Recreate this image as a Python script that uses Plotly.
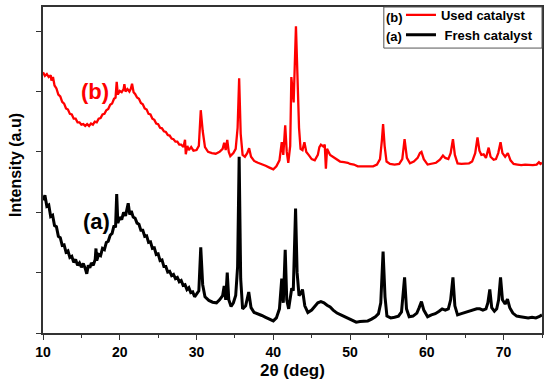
import plotly.graph_objects as go

# 2-theta (deg) and intensity (a.u.)
used_x = [10.0, 10.25, 10.5, 10.75, 11.0, 11.1, 11.3, 11.5, 11.75, 12.0, 12.25, 12.5, 12.75, 13.0, 13.25, 13.5,
          13.75, 14.0, 14.25, 14.5, 14.75, 15.0, 15.25, 15.5, 15.75, 16.0, 16.25, 16.5, 16.75, 17.0, 17.25, 17.5,
          17.75, 18.0, 18.25, 18.5, 18.75, 19.0, 19.25, 19.45, 19.6, 19.75, 20.0, 20.25, 20.5, 20.6, 20.75, 21.0,
          21.25, 21.45, 21.6, 21.8, 22.0, 22.25, 22.5, 22.75, 23.0, 23.25, 23.5, 23.75, 24.0, 24.25, 24.5, 24.75,
          25.0, 25.25, 25.5, 25.75, 26.0, 26.25, 26.5, 26.75, 27.0, 27.25, 27.5, 27.75, 28.0, 28.3, 28.5, 28.6,
          28.8, 29.0, 29.3, 29.6, 30.0, 30.3, 30.55, 30.8, 31.1, 31.5, 32.0, 32.5, 33.0, 33.4, 33.6, 33.8,
          34.0, 34.2, 34.4, 34.8, 35.1, 35.35, 35.55, 35.75, 36.0, 36.3, 36.6, 36.85, 37.1, 37.5, 38.0, 38.5,
          39.0, 39.5, 40.0, 40.4, 40.8, 41.1, 41.3, 41.55, 41.75, 41.95, 42.2, 42.35, 42.5, 42.65, 42.95, 43.15,
          43.35, 43.55, 43.8, 44.05, 44.3, 44.6, 45.0, 45.4, 45.8, 46.0, 46.2, 46.5, 46.7, 46.85, 47.0, 47.4,
          47.8, 48.2, 48.7, 49.2, 49.7, 50.0, 50.5, 51.0, 51.5, 52.0, 52.5, 53.0, 53.5, 53.9, 54.15, 54.3,
          54.5, 54.75, 55.2, 55.8, 56.4, 56.8, 57.1, 57.4, 57.8, 58.3, 58.8, 59.1, 59.3, 59.6, 60.1, 60.6,
          61.2, 61.7, 62.1, 62.4, 62.8, 63.1, 63.4, 63.65, 64.0, 64.5, 65.0, 65.5, 65.9, 66.3, 66.6, 66.85,
          67.1, 67.4, 67.7, 68.05, 68.3, 68.7, 69.0, 69.3, 69.6, 69.85, 70.2, 70.55, 70.9, 71.3, 71.8, 72.3,
          72.8, 73.3, 73.8, 74.3, 74.6, 74.8, 75.0]
used_y = [4.32, 4.26, 4.29, 4.24, 4.27, 4.18, 4.24, 4.10, 4.05, 3.95, 3.92, 3.83, 3.80, 3.72, 3.70, 3.63,
          3.62, 3.55, 3.55, 3.49, 3.49, 3.45, 3.46, 3.43, 3.46, 3.43, 3.47, 3.45, 3.50, 3.49, 3.55, 3.56,
          3.62, 3.63, 3.69, 3.71, 3.78, 3.80, 3.88, 3.90, 4.16, 3.95, 4.01, 3.99, 4.04, 4.12, 4.00, 4.04,
          4.00, 4.05, 4.13, 3.99, 3.96, 3.90, 3.88, 3.81, 3.79, 3.72, 3.70, 3.63, 3.62, 3.55, 3.53, 3.47,
          3.46, 3.40, 3.39, 3.34, 3.33, 3.28, 3.27, 3.22, 3.21, 3.17, 3.17, 3.12, 3.12, 3.08, 3.20, 2.96,
          3.10, 3.03, 3.08, 3.02, 3.03, 3.10, 3.69, 3.35, 3.08, 3.00, 2.98, 2.97, 3.00, 3.05, 3.15, 3.03,
          3.20, 3.00, 2.93, 2.98, 3.05, 3.40, 4.22, 3.30, 2.95, 2.92, 2.98, 3.06, 2.92, 2.85, 2.82, 2.80,
          2.77, 2.74, 2.71, 2.76, 2.86, 3.16, 2.95, 3.44, 3.00, 2.82, 3.10, 4.24, 4.00, 3.82, 5.08, 4.20,
          3.40, 3.05, 3.03, 3.16, 3.00, 2.95, 2.88, 2.86, 2.95, 3.08, 3.12, 3.09, 3.12, 2.72, 3.05, 2.95,
          2.92, 2.88, 2.84, 2.83, 2.82, 2.80, 2.79, 2.76, 2.76, 2.75, 2.75, 2.76, 2.79, 2.88, 3.20, 3.46,
          3.10, 2.84, 2.80, 2.79, 2.80, 2.88, 3.21, 2.90, 2.81, 2.84, 2.90, 2.98, 3.00, 2.88, 2.79, 2.80,
          2.82, 2.87, 2.94, 2.90, 2.88, 2.98, 3.21, 2.95, 2.81, 2.80, 2.80, 2.81, 2.84, 2.98, 3.24, 3.02,
          2.95, 2.96, 2.90, 3.07, 2.92, 2.87, 2.88, 2.98, 3.16, 2.98, 2.92, 2.98, 2.86, 2.80, 2.79, 2.78,
          2.79, 2.78, 2.78, 2.79, 2.83, 2.80, 2.82]

fresh_x = [10.0, 10.25, 10.5, 10.75, 11.0, 11.25, 11.5, 11.75, 12.0, 12.25, 12.5, 12.75, 13.0, 13.25, 13.5, 13.75,
           14.0, 14.25, 14.5, 14.75, 15.0, 15.25, 15.5, 15.7, 15.9, 16.1, 16.3, 16.55, 16.8, 16.9, 17.0, 17.25,
           17.5, 17.75, 18.0, 18.25, 18.5, 18.75, 19.0, 19.25, 19.45, 19.6, 19.75, 20.0, 20.25, 20.5, 20.75, 20.95,
           21.1, 21.3, 21.5, 21.75, 22.0, 22.25, 22.5, 22.75, 23.0, 23.25, 23.5, 23.75, 24.0, 24.25, 24.5, 24.75,
           25.0, 25.25, 25.5, 25.75, 26.0, 26.25, 26.5, 26.75, 27.0, 27.25, 27.5, 27.75, 28.0, 28.25, 28.5, 28.75,
           29.0, 29.25, 29.5, 29.75, 30.0, 30.3, 30.55, 30.8, 31.1, 31.6, 32.1, 32.6, 33.0, 33.4, 33.6, 33.8,
           34.0, 34.2, 34.5, 34.8, 35.1, 35.35, 35.55, 35.75, 36.0, 36.4, 36.8, 37.1, 37.5, 38.0, 38.5, 39.0,
           39.5, 40.0, 40.4, 40.8, 41.1, 41.3, 41.55, 41.75, 42.0, 42.2, 42.4, 42.6, 42.9, 43.1, 43.35, 43.55,
           43.8, 44.1, 44.5, 45.0, 45.4, 45.8, 46.2, 46.6, 47.0, 47.4, 47.8, 48.3, 48.8, 49.3, 49.8, 50.3,
           50.8, 51.3, 51.8, 52.3, 52.8, 53.3, 53.7, 54.0, 54.3, 54.55, 54.8, 55.3, 55.8, 56.3, 56.7, 57.1,
           57.35, 57.7, 58.2, 58.7, 59.0, 59.3, 59.6, 60.1, 60.6, 61.1, 61.6, 62.0, 62.4, 62.8, 63.1, 63.4,
           63.65, 64.0, 64.5, 65.0, 65.5, 66.0, 66.5, 66.9, 67.3, 67.7, 67.95, 68.2, 68.45, 68.8, 69.1, 69.35,
           69.6, 69.85, 70.2, 70.5, 70.8, 71.2, 71.7, 72.2, 72.7, 73.2, 73.7, 74.2, 74.6, 75.0]
fresh_y = [2.20, 2.28, 2.10, 2.12, 1.93, 1.95, 1.78, 1.76, 1.60, 1.58, 1.45, 1.46, 1.34, 1.36, 1.25, 1.27,
           1.17, 1.22, 1.12, 1.16, 1.09, 1.15, 1.07, 0.98, 1.12, 1.08, 1.16, 1.12, 1.22, 1.40, 1.20, 1.30,
           1.28, 1.40, 1.38, 1.50, 1.52, 1.62, 1.65, 1.78, 1.75, 2.30, 1.82, 1.92, 1.88, 2.00, 1.94, 2.06,
           2.15, 1.96, 2.02, 1.92, 1.90, 1.82, 1.80, 1.70, 1.70, 1.60, 1.61, 1.50, 1.51, 1.40, 1.41, 1.30,
           1.31, 1.20, 1.21, 1.10, 1.10, 1.01, 1.02, 0.95, 0.97, 0.90, 0.92, 0.85, 0.87, 0.79, 0.80, 0.72,
           0.75, 0.67, 0.68, 0.60, 0.64, 0.70, 1.42, 0.80, 0.60, 0.54, 0.51, 0.50, 0.55, 0.62, 0.78, 0.55,
           1.00, 0.55, 0.44, 0.50, 0.62, 1.10, 2.92, 0.90, 0.40, 0.45, 0.68, 0.42, 0.34, 0.32, 0.29, 0.26,
           0.23, 0.20, 0.25, 0.40, 0.90, 0.50, 1.38, 0.55, 0.40, 0.55, 0.74, 0.70, 2.06, 1.00, 0.62, 0.65,
           0.72, 0.45, 0.34, 0.38, 0.44, 0.50, 0.52, 0.50, 0.46, 0.43, 0.38, 0.33, 0.30, 0.27, 0.24, 0.21,
           0.18, 0.19, 0.20, 0.20, 0.23, 0.27, 0.32, 0.50, 1.35, 0.60, 0.28, 0.25, 0.26, 0.28, 0.35, 0.92,
           0.40, 0.27, 0.28, 0.33, 0.42, 0.52, 0.38, 0.27, 0.30, 0.32, 0.36, 0.40, 0.38, 0.40, 0.55, 0.92,
           0.45, 0.30, 0.32, 0.34, 0.36, 0.38, 0.40, 0.40, 0.38, 0.40, 0.50, 0.72, 0.42, 0.36, 0.40, 0.55,
           0.92, 0.55, 0.48, 0.56, 0.42, 0.33, 0.28, 0.27, 0.26, 0.25, 0.26, 0.25, 0.27, 0.30]

x_ticks = [10, 20, 30, 40, 50, 60, 70]
y_ticks = [0, 1, 2, 3, 4, 5]

FONT = "Arial, 'Liberation Sans', sans-serif"

fig = go.Figure()
fig.add_trace(go.Scatter(x=used_x, y=used_y, mode="lines", name="Used catalyst",
                         line=dict(color="#ff0000", width=2.3)))
fig.add_trace(go.Scatter(x=fresh_x, y=fresh_y, mode="lines", name="\u00a0Fresh catalyst",
                         line=dict(color="#000000", width=3)))

fig.update_layout(
    width=550, height=388,
    margin=dict(l=43, r=8, t=7, b=55, autoexpand=False),
    paper_bgcolor="white", plot_bgcolor="white",
    font=dict(family=FONT, color="black"),
    showlegend=True,
    legend=dict(x=0.7174, y=1.022, xanchor="left", yanchor="top",
                bgcolor="rgba(0,0,0,0)", borderwidth=0,
                font=dict(family=FONT, size=13, color="black", weight="bold"),
                tracegroupgap=0, itemwidth=30),
    xaxis=dict(range=[10, 75], tickvals=x_ticks, ticks="outside", ticklen=5, tickwidth=1.2,
               tickcolor="#333", showline=True, linecolor="#333", linewidth=1.5, mirror=True,
               showgrid=False, zeroline=False,
               tickfont=dict(family=FONT, size=14, color="black", weight="bold"),
               minor=dict(dtick=5, tick0=10, ticks="outside", ticklen=3, tickcolor="#333", showgrid=False)),
    yaxis=dict(range=[0, 5.40], tickvals=y_ticks, ticks="outside", ticklen=5, tickwidth=1.2,
               tickcolor="#333", showline=True, linecolor="#333", linewidth=1.5, mirror=True,
               showgrid=False, zeroline=False, showticklabels=False),
    shapes=[dict(type="rect", xref="paper", yref="paper", x0=0.683, x1=1.0, y0=0.874, y1=1.0,
                 line=dict(color="#555", width=1), fillcolor="rgba(0,0,0,0)")],
    annotations=[
        dict(text="(b)", x=16.8, y=4.0, xref="x", yref="y", showarrow=False,
             font=dict(family=FONT, size=22, color="#ff0000", weight="bold")),
        dict(text="(a)", x=17.0, y=1.84, xref="x", yref="y", showarrow=False,
             font=dict(family=FONT, size=22, color="black", weight="bold")),
        dict(text="(b)", x=0.704, y=(333 - 17) / 326, xref="paper", yref="paper", showarrow=False,
             xanchor="center", yanchor="middle",
             font=dict(family=FONT, size=13, color="black", weight="bold")),
        dict(text="(a)", x=0.704, y=(333 - 36) / 326, xref="paper", yref="paper", showarrow=False,
             xanchor="center", yanchor="middle",
             font=dict(family=FONT, size=13, color="black", weight="bold")),
        dict(text="2\u03b8 (deg)", x=0.5, y=(333 - 370) / 326, xref="paper", yref="paper",
             xanchor="center", yanchor="middle",
             showarrow=False, font=dict(family=FONT, size=17, color="black", weight="bold")),
        dict(text="Intensity (a.u)", x=(15 - 43) / 499, y=(333 - 165) / 326, xref="paper", yref="paper",
             textangle=-90, xanchor="center", yanchor="middle",
             showarrow=False, font=dict(family=FONT, size=16, color="black", weight="bold")),
    ],
)

fig.write_html("out.html", config={"displayModeBar": False},
               post_script="document.body.style.margin='0px';document.body.style.padding='0px';")
